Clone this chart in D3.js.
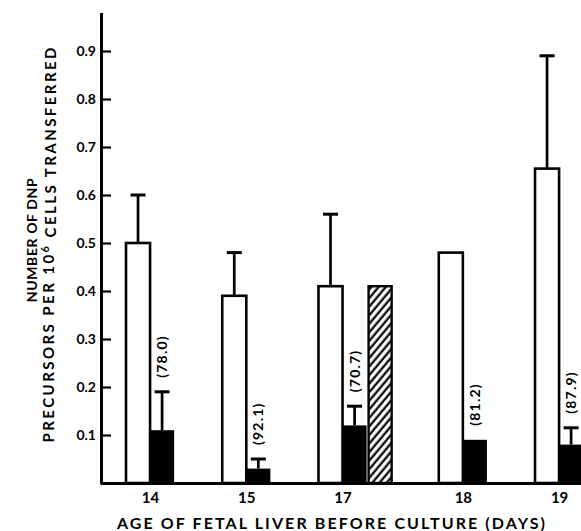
<!DOCTYPE html>
<html>
<head>
<meta charset="utf-8">
<script src="https://cdn.jsdelivr.net/npm/d3@7"></script>
<style>
  body { margin: 0; background: #fff; }
  text { font-family: Lato, "DejaVu Sans", sans-serif; font-weight: 700; fill: #000; }
</style>
</head>
<body>
<script>
// fetal liver dnp precursors, before (open) and after (solid) culture

var days = ["14", "15", "17", "18", "19"];
var beforeCulture = [0.50, 0.39, 0.41, 0.48, 0.655];
var beforeErrTop = [0.60, 0.48, 0.56, null, 0.89];
var afterCulture = [0.11, 0.03, 0.12, 0.09, 0.08];
var afterErrTop = [0.19, 0.05, 0.16, null, 0.115];
var percentLabels = ["(78.0)", "(92.1)", "(70.7)", "(81.2)", "(87.9)"];
var hatchedDay = "17";
var hatchedValue = 0.41;
var yTicks = [0.1, 0.2, 0.3, 0.4, 0.5, 0.6, 0.7, 0.8, 0.9];

var width = 581, height = 531;
var slotW = 24.06;

var svg = d3.select("body").append("svg")
    .attr("width", width)
    .attr("height", height);

// hatch pattern for the extra bar
svg.append("defs").append("pattern")
    .attr("id", "hatch")
    .attr("patternUnits", "userSpaceOnUse")
    .attr("width", 5.5)
    .attr("height", 10)
    .attr("patternTransform", "rotate(40)")
  .append("line")
    .attr("x1", 1.5).attr("y1", 0)
    .attr("x2", 1.5).attr("y2", 10)
    .attr("stroke", "#000")
    .attr("stroke-width", 2.2);

// slot positions: each group has its bars then a gap of two bar widths
var starts = [], s = 0;
days.forEach(function(d) {
    starts.push(s);
    s += (d === hatchedDay ? 3 : 2) + 2;
});

var x = d3.scaleLinear()
    .domain([-26 / slotW, 455 / slotW])
    .range([100, 581]);

var y = d3.scaleLinear()
    .domain([0, 0.98])
    .range([483, 12.6]);

var bw = x(1) - x(0);

// open bars
svg.selectAll(".open")
    .data(beforeCulture)
    .enter().append("rect")
    .attr("class", "open")
    .attr("x", function(d, i) { return x(starts[i]); })
    .attr("y", function(d) { return y(d); })
    .attr("width", bw)
    .attr("height", function(d) { return y(0) - y(d); })
    .attr("fill", "#fff")
    .attr("stroke", "#000")
    .attr("stroke-width", 2.6);

// solid bars
svg.selectAll(".solid")
    .data(afterCulture)
    .enter().append("rect")
    .attr("class", "solid")
    .attr("x", function(d, i) { return x(starts[i] + 1); })
    .attr("y", function(d) { return y(d); })
    .attr("width", bw)
    .attr("height", function(d) { return y(0) - y(d); })
    .attr("fill", "#000");

// hatched bar
var hi = days.indexOf(hatchedDay);
svg.append("rect")
    .attr("x", x(starts[hi] + 2) + 2)
    .attr("y", y(hatchedValue))
    .attr("width", bw - 1)
    .attr("height", y(0) - y(hatchedValue))
    .attr("fill", "url(#hatch)")
    .attr("stroke", "#000")
    .attr("stroke-width", 2.4);

// error bars
function errBars(means, tops, offset) {
    means.forEach(function(m, i) {
        if (tops[i] == null) return;
        var cx = x(starts[i] + offset + 0.5);
        svg.append("line")
            .attr("x1", cx).attr("x2", cx)
            .attr("y1", y(m)).attr("y2", y(tops[i]))
            .attr("stroke", "#000").attr("stroke-width", 2.7);
        svg.append("line")
            .attr("x1", cx - 7.5).attr("x2", cx + 7.5)
            .attr("y1", y(tops[i])).attr("y2", y(tops[i]))
            .attr("stroke", "#000").attr("stroke-width", 3);
    });
}
errBars(beforeCulture, beforeErrTop, 0);
errBars(afterCulture, afterErrTop, 1);

// rotated percent labels above solid bars
svg.selectAll(".pct")
    .data(percentLabels)
    .enter().append("text")
    .attr("class", "pct")
    .attr("transform", function(d, i) {
        var top = afterErrTop[i] != null ? afterErrTop[i] : afterCulture[i];
        return "translate(" + x(starts[i] + 1.5) + "," + (y(top) - 14) + ") rotate(-90)";
    })
    .attr("dy", "0.36em")
    .style("font-size", "14px")
    .style("letter-spacing", "1.2px")
    .text(function(d) { return d; });

// y axis, ticks pointing inward
var yAxis = svg.append("g")
    .attr("transform", "translate(101,0)")
    .call(d3.axisLeft(y)
        .tickValues(yTicks)
        .tickSizeInner(-10)
        .tickSizeOuter(0)
        .tickPadding(5)
        .tickFormat(d3.format(".1f")));
yAxis.select(".domain").attr("stroke-width", 3);
yAxis.selectAll(".tick line").attr("stroke-width", 2.2);
yAxis.selectAll("text")
    .style("font-size", "14px")
    .style("font-family", "Lato, sans-serif")
    .style("font-weight", 700);

// x axis
var xAxis = svg.append("g")
    .attr("transform", "translate(0,483)")
    .call(d3.axisBottom(x)
        .tickValues(starts.map(function(v) { return v + 1; }))
        .tickFormat(function(d, i) { return days[i]; })
        .tickSize(0)
        .tickPadding(9));
xAxis.select(".domain").attr("stroke-width", 3);
xAxis.selectAll("text")
    .style("font-size", "15px")
    .style("font-family", "Lato, sans-serif")
    .style("font-weight", 700);

// axis titles
svg.append("text")
    .attr("x", 331)
    .attr("y", 529)
    .attr("text-anchor", "middle")
    .attr("textLength", 428)
    .attr("lengthAdjust", "spacing")
    .style("font-size", "16px")
    .text("AGE OF FETAL LIVER BEFORE CULTURE (DAYS)");

svg.append("text")
    .attr("transform", "translate(32,240) rotate(-90)")
    .attr("text-anchor", "middle")
    .attr("dy", "0.36em")
    .style("font-size", "14px")
    .style("letter-spacing", "0.6px")
    .text("NUMBER OF  DNP");

var t2 = svg.append("text")
    .attr("transform", "translate(49,245) rotate(-90)")
    .attr("text-anchor", "middle")
    .attr("dy", "0.36em")
    .attr("textLength", 395)
    .attr("lengthAdjust", "spacing")
    .style("font-size", "15px");
t2.append("tspan").text("PRECURSORS  PER  10");
t2.append("tspan").attr("dy", "-0.45em").style("font-size", "11px").text("6");
t2.append("tspan").attr("dy", "0.45em").text("  CELLS  TRANSFERRED");
</script>
</body>
</html>
